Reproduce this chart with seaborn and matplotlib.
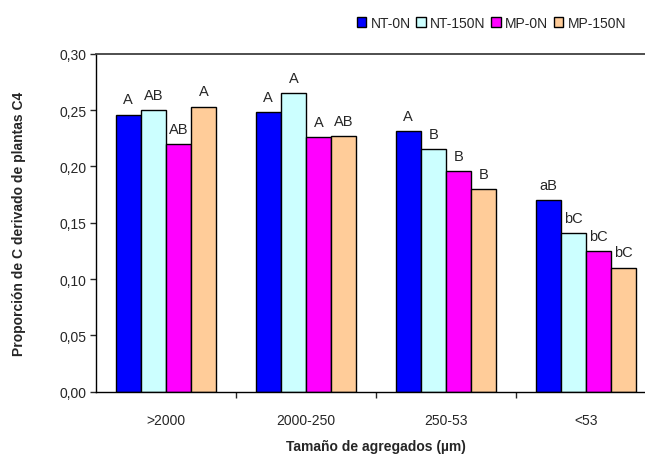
"""Proporción de C derivado de plantas C4 por tamaño de agregado."""

import matplotlib.pyplot as plt
import numpy as np
import pandas as pd
import seaborn as sns
from matplotlib.ticker import FixedLocator, FuncFormatter

sizes = [">2000", "2000-250", "250-53", "<53"]
treatments = ["NT-0N", "NT-150N", "MP-0N", "MP-150N"]
nt_0n = [0.246, 0.248, 0.231, 0.170]
nt_150n = [0.250, 0.265, 0.215, 0.141]
mp_0n = [0.220, 0.226, 0.196, 0.125]
mp_150n = [0.253, 0.227, 0.180, 0.110]
letters = {
    "NT-0N": ["A", "A", "A", "aB"],
    "NT-150N": ["AB", "A", "B", "bC"],
    "MP-0N": ["AB", "A", "B", "bC"],
    "MP-150N": ["A", "AB", "B", "bC"],
}
colors = ["#0000FF", "#CCFFFF", "#FF00FF", "#FFCC99"]

series = dict(zip(treatments, [nt_0n, nt_150n, mp_0n, mp_150n]))
df = pd.DataFrame(
    [(s, t, series[t][i]) for t in treatments for i, s in enumerate(sizes)],
    columns=["size", "trat", "value"],
)

sns.set_style("white")
plt.rcParams["font.family"] = ["Liberation Sans", "DejaVu Sans"]

fig = plt.figure(figsize=(6.45, 4.56), dpi=100)
ax = fig.add_axes([0.1488, 0.1388, 0.8682, 0.7412])

sns.barplot(
    data=df, x="size", y="value", hue="trat", order=sizes, hue_order=treatments,
    palette=colors, width=0.72, edgecolor="black", linewidth=1,
    saturation=1, dodge=True, ax=ax,
)

# significance letters above each bar
for cont, t in zip(ax.containers, treatments):
    for bar, lab in zip(cont, letters[t]):
        ax.annotate(lab, (bar.get_x() + bar.get_width() / 2, bar.get_height()),
                    xytext=(0, 6), textcoords="offset points",
                    ha="center", va="bottom", fontsize=10.5)

ax.set_xlim(-0.5, 3.5)
ax.set_ylim(0, 0.30)
ax.set_yticks(np.arange(0, 0.301, 0.05))
ax.yaxis.set_major_formatter(FuncFormatter(lambda v, _: f"{v:.2f}".replace(".", ",")))
ax.tick_params(axis="y", direction="out", length=4, width=1, labelsize=10, left=True, pad=3)
ax.tick_params(axis="x", which="major", length=0, labelsize=10, pad=15)
ax.xaxis.set_minor_locator(FixedLocator([0.5, 1.5, 2.5]))
ax.tick_params(axis="x", which="minor", direction="out", length=4, width=1, bottom=True)

for side in ["left", "bottom"]:
    ax.spines[side].set_color("black")
    ax.spines[side].set_linewidth(1)
ax.spines["top"].set_color("#404040")
ax.spines["top"].set_linewidth(1.3)
ax.spines["right"].set_visible(False)

ax.set_xlabel("Tamaño de agregados (µm)", fontsize=10, fontweight="bold", labelpad=9)
ax.set_ylabel("Proporción de C derivado de plantas C4", fontsize=10, fontweight="bold", labelpad=24)

ax.get_legend().remove()
handles = [plt.Rectangle((0, 0), 1, 1, facecolor=c, edgecolor="black", linewidth=1) for c in colors]
fig.legend(handles, treatments, loc="upper right", bbox_to_anchor=(0.99, 0.99),
           ncol=4, frameon=False, fontsize=10, handlelength=0.7, handleheight=0.7,
           handletextpad=0.3, columnspacing=0.4)

fig.savefig("out.png", dpi=100)
